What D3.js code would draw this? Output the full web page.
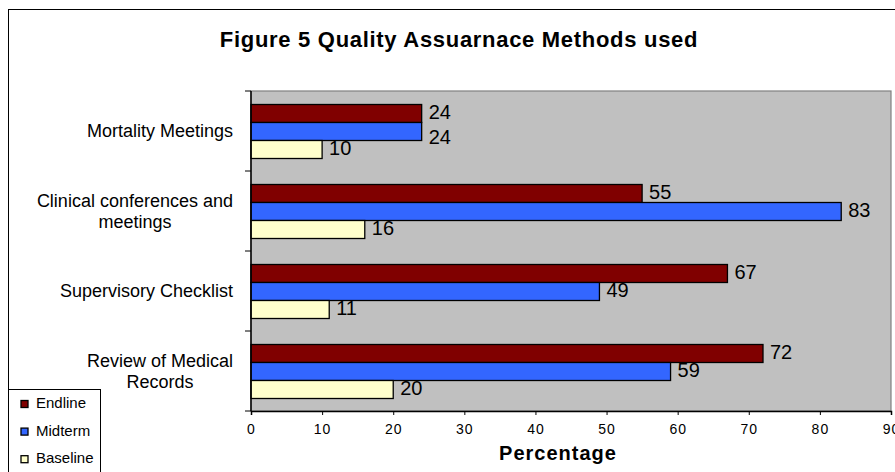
<!DOCTYPE html>
<html>
<head>
<meta charset="utf-8">
<script src="https://cdn.jsdelivr.net/npm/d3@7"></script>
<style>
  html, body { margin: 0; padding: 0; background: #ffffff; }
  svg { display: block; font-family: "Liberation Sans", Arial, sans-serif; }
</style>
</head>
<body>
<svg id="chart" width="895" height="472"></svg>
<script>
// Quality assurance methods, percentage of facilities by survey round
const categories = [
  ["Mortality Meetings"],
  ["Clinical conferences and", "meetings"],
  ["Supervisory Checklist"],
  ["Review of Medical", "Records"]
];
const seriesNames = ["Endline", "Midterm", "Baseline"];
const endline  = [24, 55, 67, 72];
const midterm  = [24, 83, 49, 59];
const baseline = [10, 16, 11, 20];
const xTicks = [0, 10, 20, 30, 40, 50, 60, 70, 80, 90];
const seriesColors = ["#800000", "#3366FF", "#FFFFCC"];

const seriesValues = [endline, midterm, baseline];
const catKeys = categories.map(c => c.join(" "));
const FONT = "'Liberation Sans', Arial, sans-serif";

const svg = d3.select("#chart");

// outer chart frame (runs past the right and bottom edges)
svg.append("rect")
  .attr("x", 8.5).attr("y", 9.5)
  .attr("width", 920).attr("height", 500)
  .attr("fill", "#ffffff").attr("stroke", "#000").attr("stroke-width", 1);

// title
svg.append("text")
  .attr("x", 459).attr("y", 47)
  .attr("text-anchor", "middle")
  .attr("font-size", 22).attr("font-weight", "bold")
  .attr("letter-spacing", "0.7px")
  .text("Figure 5 Quality Assuarnace Methods used");

const plot = { left: 251, top: 91, right: 891, bottom: 411 };

const x = d3.scaleLinear().domain([0, 90]).range([plot.left, plot.right]);
const y0 = d3.scaleBand().domain(catKeys).range([plot.top, plot.bottom]).padding(0);
const y1 = d3.scaleBand().domain(seriesNames).range([13.5, y0.bandwidth() - 12.5]).padding(0);
const color = d3.scaleOrdinal().domain(seriesNames).range(seriesColors);

// plot area background
svg.append("rect")
  .attr("x", plot.left).attr("y", plot.top)
  .attr("width", plot.right - plot.left).attr("height", plot.bottom - plot.top)
  .attr("fill", "#C0C0C0").attr("stroke", "#808080").attr("stroke-width", 1.2);

// bars and value labels
const groups = svg.append("g").selectAll("g")
  .data(catKeys)
  .join("g")
  .attr("transform", d => `translate(0,${y0(d)})`);

groups.each(function(cat, ci) {
  const g = d3.select(this);
  const rows = seriesNames.map((s, si) => ({ s, v: seriesValues[si][ci] }));
  g.selectAll("rect")
    .data(rows)
    .join("rect")
    .attr("x", x(0))
    .attr("y", d => y1(d.s))
    .attr("width", d => x(d.v) - x(0))
    .attr("height", y1.bandwidth())
    .attr("fill", d => color(d.s))
    .attr("stroke", "#000").attr("stroke-width", 1.3);

  // label centres; push a label down when it would collide with the one above
  const pos = rows.map(d => ({ x: x(d.v) + 7, y: y1(d.s) + y1.bandwidth() / 2 - 2 }));
  for (let i = 1; i < pos.length; i++) {
    const p = pos[i - 1], c = pos[i];
    if (Math.abs(c.x - p.x) < 24 && c.y - p.y < 24) c.y = p.y + 25;
  }
  g.selectAll("text")
    .data(rows)
    .join("text")
    .attr("x", (d, i) => pos[i].x)
    .attr("y", (d, i) => pos[i].y)
    .attr("dy", "0.35em")
    .attr("font-size", 20)
    .attr("fill", "#000")
    .text(d => d.v);
});

// x axis
const xAxis = svg.append("g")
  .attr("transform", `translate(0,${plot.bottom})`)
  .call(d3.axisBottom(x).tickValues(xTicks).tickSize(4).tickPadding(9).tickFormat(d3.format("d")));
xAxis.attr("font-family", FONT).attr("font-size", 14);
xAxis.select(".domain").attr("stroke", "#000").attr("stroke-width", 1.5);
xAxis.selectAll(".tick line").attr("stroke", "#000");
xAxis.selectAll(".tick text")
  .attr("letter-spacing", "1px")
  .attr("fill", "#000");

// y axis: ticks sit on category boundaries
const yBoundaries = catKeys.map(k => y0(k)).concat([plot.bottom]);
svg.append("line")
  .attr("x1", plot.left).attr("x2", plot.left)
  .attr("y1", plot.top).attr("y2", plot.bottom)
  .attr("stroke", "#000").attr("stroke-width", 1.5);
svg.append("g").selectAll("line")
  .data(yBoundaries)
  .join("line")
  .attr("x1", plot.left - 6).attr("x2", plot.left)
  .attr("y1", d => d).attr("y2", d => d)
  .attr("stroke", "#000");

// category labels: block right-aligned, lines centred within the block
const catLabels = svg.append("g");
categories.forEach((lines, ci) => {
  const cy = y0(catKeys[ci]) + y0.bandwidth() / 2;
  const lh = 21;
  const t = catLabels.append("text")
    .attr("font-size", 18).attr("fill", "#000");
  const spans = lines.map((ln, li) =>
    t.append("tspan")
      .attr("y", cy + (li - (lines.length - 1) / 2) * lh)
      .attr("dy", "0.35em")
      .text(ln));
  const widths = spans.map(s => s.node().getComputedTextLength());
  const maxW = d3.max(widths);
  const right = 233;
  spans.forEach((s, i) => {
    s.attr("x", right - maxW + (maxW - widths[i]) / 2);
  });
});

// axis title
svg.append("text")
  .attr("x", 558).attr("y", 460)
  .attr("text-anchor", "middle")
  .attr("font-size", 20).attr("font-weight", "bold")
  .attr("letter-spacing", "1px")
  .text("Percentage");

// legend
const legend = svg.append("g");
legend.append("rect")
  .attr("x", 8.5).attr("y", 389.5)
  .attr("width", 92).attr("height", 100)
  .attr("fill", "#ffffff").attr("stroke", "#000");
seriesNames.forEach((s, i) => {
  const by = 408 + i * 27.6;
  legend.append("rect")
    .attr("x", 21).attr("y", by - 7.5)
    .attr("width", 7).attr("height", 7)
    .attr("fill", color(s)).attr("stroke", "#000").attr("stroke-width", 1.3);
  legend.append("text")
    .attr("x", 36).attr("y", by)
    .attr("font-size", 15).attr("fill", "#000")
    .text(s);
});
</script>
</body>
</html>
